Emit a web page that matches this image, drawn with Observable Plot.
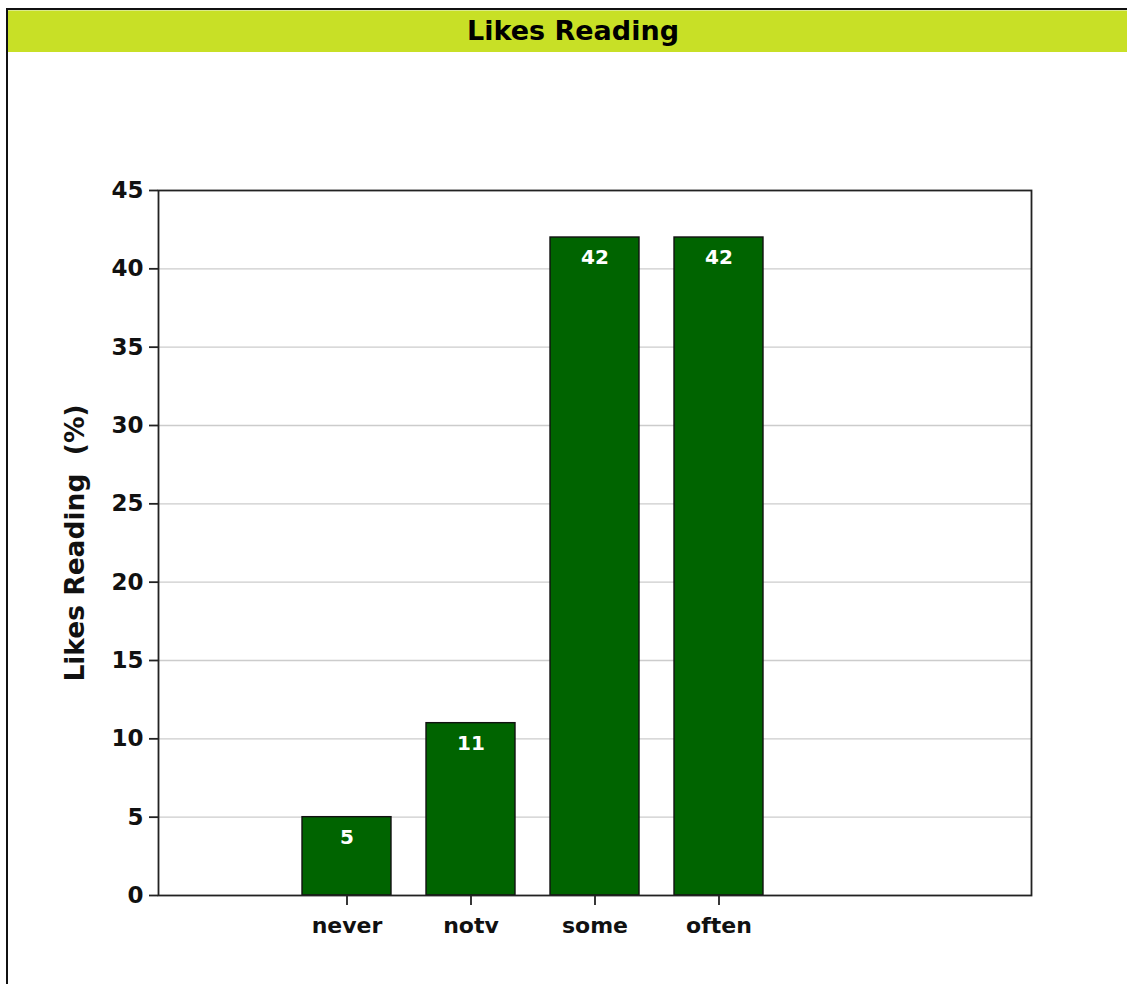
<!DOCTYPE html>
<html>
<head>
<meta charset="utf-8">
<script src="https://cdn.jsdelivr.net/npm/d3@7"></script>
<script src="https://cdn.jsdelivr.net/npm/@observablehq/plot@0.6"></script>
<style>
  html, body { margin: 0; padding: 0; background: #fff; overflow: hidden; }
  #box {
    position: absolute; left: 6px; top: 8px; width: 1121px; height: 990px;
    border-left: 2px solid #111; border-top: 2px solid #111; box-sizing: border-box;
    font-family: "DejaVu Sans", sans-serif;
  }
  #title {
    height: 42px; line-height: 40px; background: #c8e026; text-align: center;
    font-weight: bold; font-size: 27px; color: #000; padding-left: 11px;
    border-top: 1px solid #dcea8a; box-sizing: border-box;
  }
</style>
</head>
<body>
<div id="box">
  <div id="title">Likes Reading</div>
  <div id="chart"></div>
</div>
<script>
const categories = ["never", "notv", "some", "often"];
const values = [5, 11, 42, 42];
const yTicks = [0, 5, 10, 15, 20, 25, 30, 35, 40, 45];
const padSlots = ["_pad0", "_pad1", "_pad2"];
const yLabel = "Likes Reading\u00a0\u00a0(%)";

const data = categories.map((c, i) => ({cat: c, value: values[i]}));
const slots = [padSlots[0], ...categories, padSlots[1], padSlots[2]];

const chart = Plot.plot({
  width: 1119,
  height: 932,
  marginLeft: 150,
  marginRight: 96,
  marginTop: 138,
  marginBottom: 89,
  style: {fontFamily: "'DejaVu Sans', sans-serif", fontSize: "22px", fontWeight: "bold", color: "#111", background: "transparent"},
  x: {type: "band", domain: slots, paddingInner: 0.28, paddingOuter: 0.14, align: 0.5},
  y: {domain: [0, 45]},
  marks: [
    Plot.gridY(yTicks.filter(t => t > 0 && t < 45), {stroke: "#cccccc", strokeOpacity: 1, strokeWidth: 1.3}),
    Plot.barY(data, {x: "cat", y: "value", fill: "#006400", stroke: "#111", strokeWidth: 1.4}),
    Plot.text(data, {x: "cat", y: "value", text: d => String(d.value), fill: "white", dy: 20, fontSize: 20, fontWeight: "bold"}),
    Plot.frame({stroke: "#222", strokeWidth: 1.8}),
    Plot.axisY(yTicks, {tickSize: 9, tickPadding: 6, strokeWidth: 1.8, stroke: "#222", fontSize: 23, fontWeight: "bold",
      label: yLabel, labelAnchor: "center", labelOffset: 93, labelArrow: "none"}),
    Plot.axisX(categories, {tickSize: 10, tickPadding: 12, strokeWidth: 1.8, stroke: "#222", fontSize: 22, fontWeight: "bold", label: null})
  ]
});
document.getElementById("chart").appendChild(chart);
chart.querySelectorAll("g[aria-label='y-axis label'] text").forEach(t => { t.setAttribute("font-size", "26.5"); });
</script>
</body>
</html>
